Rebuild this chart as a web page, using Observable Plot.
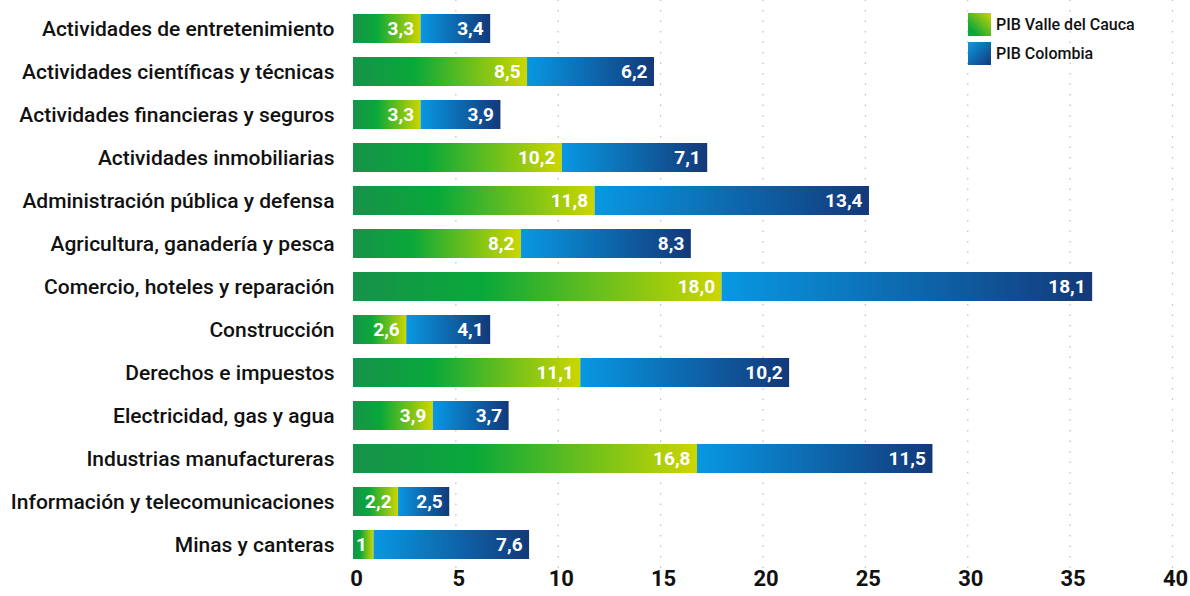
<!DOCTYPE html>
<html><head><meta charset="utf-8">
<script src="https://cdn.jsdelivr.net/npm/d3@7"></script>
<script src="https://cdn.jsdelivr.net/npm/@observablehq/plot@0.6"></script>
<style>
body{margin:0;background:#fff;font-family:Roboto,sans-serif}
#wrap{position:relative;width:1190px;height:596px;overflow:hidden}
.legend{position:absolute;left:968px;top:13px;font:500 16px Roboto,sans-serif;color:#111}
.legend .item{display:flex;align-items:center;height:23px;margin-bottom:6px}
.legend .sw{width:23px;height:23px;margin-right:5px}
</style></head><body><div id="wrap"></div>
<script>
const sectors = [
  "Actividades de entretenimiento",
  "Actividades científicas y técnicas",
  "Actividades financieras y seguros",
  "Actividades inmobiliarias",
  "Administración pública y defensa",
  "Agricultura, ganadería y pesca",
  "Comercio, hoteles y reparación",
  "Construcción",
  "Derechos e impuestos",
  "Electricidad, gas y agua",
  "Industrias manufactureras",
  "Información y telecomunicaciones",
  "Minas y canteras"
];
const valle =    [3.3, 8.5, 3.3, 10.2, 11.8, 8.2, 18.0, 2.6, 11.1, 3.9, 16.8, 2.2, 1];
const colombia = [3.4, 6.2, 3.9, 7.1, 13.4, 8.3, 18.1, 4.1, 10.2, 3.7, 11.5, 2.5, 7.6];
const valleLabels =    ["3,3","8,5","3,3","10,2","11,8","8,2","18,0","2,6","11,1","3,9","16,8","2,2","1"];
const colombiaLabels = ["3,4","6,2","3,9","7,1","13,4","8,3","18,1","4,1","10,2","3,7","11,5","2,5","7,6"];
const seriesNames = ["PIB Valle del Cauca", "PIB Colombia"];
const xTicks = [0, 5, 10, 15, 20, 25, 30, 35, 40];

const rows = sectors.flatMap((s, i) => [
  {sector: s, serie: seriesNames[0], value: valle[i], label: valleLabels[i]},
  {sector: s, serie: seriesNames[1], value: colombia[i], label: colombiaLabels[i]}
]);

const chart = Plot.plot({
  width: 1190, height: 596,
  marginLeft: 353, marginRight: 18, marginTop: 5.6, marginBottom: 28.6,
  style: {fontFamily: "Roboto, sans-serif", color: "#111", background: "transparent"},
  x: {domain: [0, 40], axis: null},
  y: {domain: sectors, paddingInner: 0.336, paddingOuter: 0.1, axis: null},
  color: {domain: seriesNames, range: ["url(#gValle)", "url(#gCol)"]},
  marks: [
    Plot.ruleX(xTicks.filter(d => d > 0), {x: d => d, stroke: "#bdbdbd", strokeWidth: 1.2, strokeDasharray: "1.5,9", insetTop: -6, insetBottom: -8}),
    Plot.barX(rows, Plot.stackX({x: "value", y: "sector", fill: "serie"})),
    Plot.text(rows, Plot.stackX2({x: "value", y: "sector", text: "label", textAnchor: "end", dx: -7, fill: "white", fontSize: 19, fontWeight: 700})),
    Plot.text(sectors, {y: d => d, text: d => d, frameAnchor: "left", textAnchor: "end", dx: -19, fontSize: 21, fontWeight: 500, fill: "#111"}),
    Plot.text(xTicks, {x: d => d, text: d => String(d), frameAnchor: "bottom", dx: 3, dy: 18, fontSize: 22, fontWeight: 700, fill: "#111"})
  ]
});

const svg = d3.select(chart);
const defs = svg.insert("defs", ":first-child");
const gv = defs.append("linearGradient").attr("id", "gValle").attr("x1", 0).attr("x2", 1).attr("y1", 0).attr("y2", 0);
gv.append("stop").attr("offset", "0%").attr("stop-color", "#17924a");
gv.append("stop").attr("offset", "35%").attr("stop-color", "#09a83a");
gv.append("stop").attr("offset", "100%").attr("stop-color", "#cdd600");
const gc = defs.append("linearGradient").attr("id", "gCol").attr("x1", 0).attr("x2", 1).attr("y1", 0).attr("y2", 0);
gc.append("stop").attr("offset", "0%").attr("stop-color", "#0898e2");
gc.append("stop").attr("offset", "100%").attr("stop-color", "#13397a");

const wrap = document.getElementById("wrap");
wrap.appendChild(chart);

const legend = document.createElement("div");
legend.className = "legend";
const swatchBg = [
  "linear-gradient(45deg, #0ca63b 20%, #cdd600 100%)",
  "linear-gradient(135deg, #0a9be3 0%, #13397a 100%)"
];
seriesNames.forEach((n, i) => {
  const it = document.createElement("div");
  it.className = "item";
  const sw = document.createElement("span");
  sw.className = "sw";
  sw.style.background = swatchBg[i];
  const tx = document.createElement("span");
  tx.textContent = n;
  it.appendChild(sw); it.appendChild(tx);
  legend.appendChild(it);
});
wrap.appendChild(legend);
</script>
</body></html>
